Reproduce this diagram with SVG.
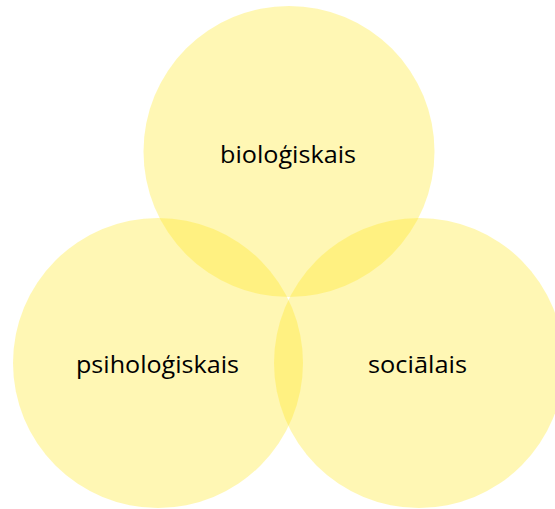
<svg xmlns="http://www.w3.org/2000/svg" width="555" height="509" viewBox="0 0 555 509">
<style>
.c{fill:#FFE81A;fill-opacity:0.33}
.t{font-family:"Open Sans","Liberation Sans",sans-serif;font-size:23px;fill:#000;text-anchor:middle}
</style>
<rect width="555" height="509" fill="#fff"/>
<g id="bio"><circle class="c" cx="289" cy="151.5" r="145.5"/><text class="t" x="288" y="163" textLength="136" lengthAdjust="spacingAndGlyphs">bioloģiskais</text></g>
<g id="psi"><circle class="c" cx="158" cy="363" r="145"/><text class="t" x="157.5" y="373" textLength="163" lengthAdjust="spacingAndGlyphs">psiholoģiskais</text></g>
<g id="soc"><circle class="c" cx="419" cy="363" r="145"/><text class="t" x="417.5" y="373" textLength="99" lengthAdjust="spacingAndGlyphs">sociālais</text></g>
<g id="connectors"/>
</svg>
